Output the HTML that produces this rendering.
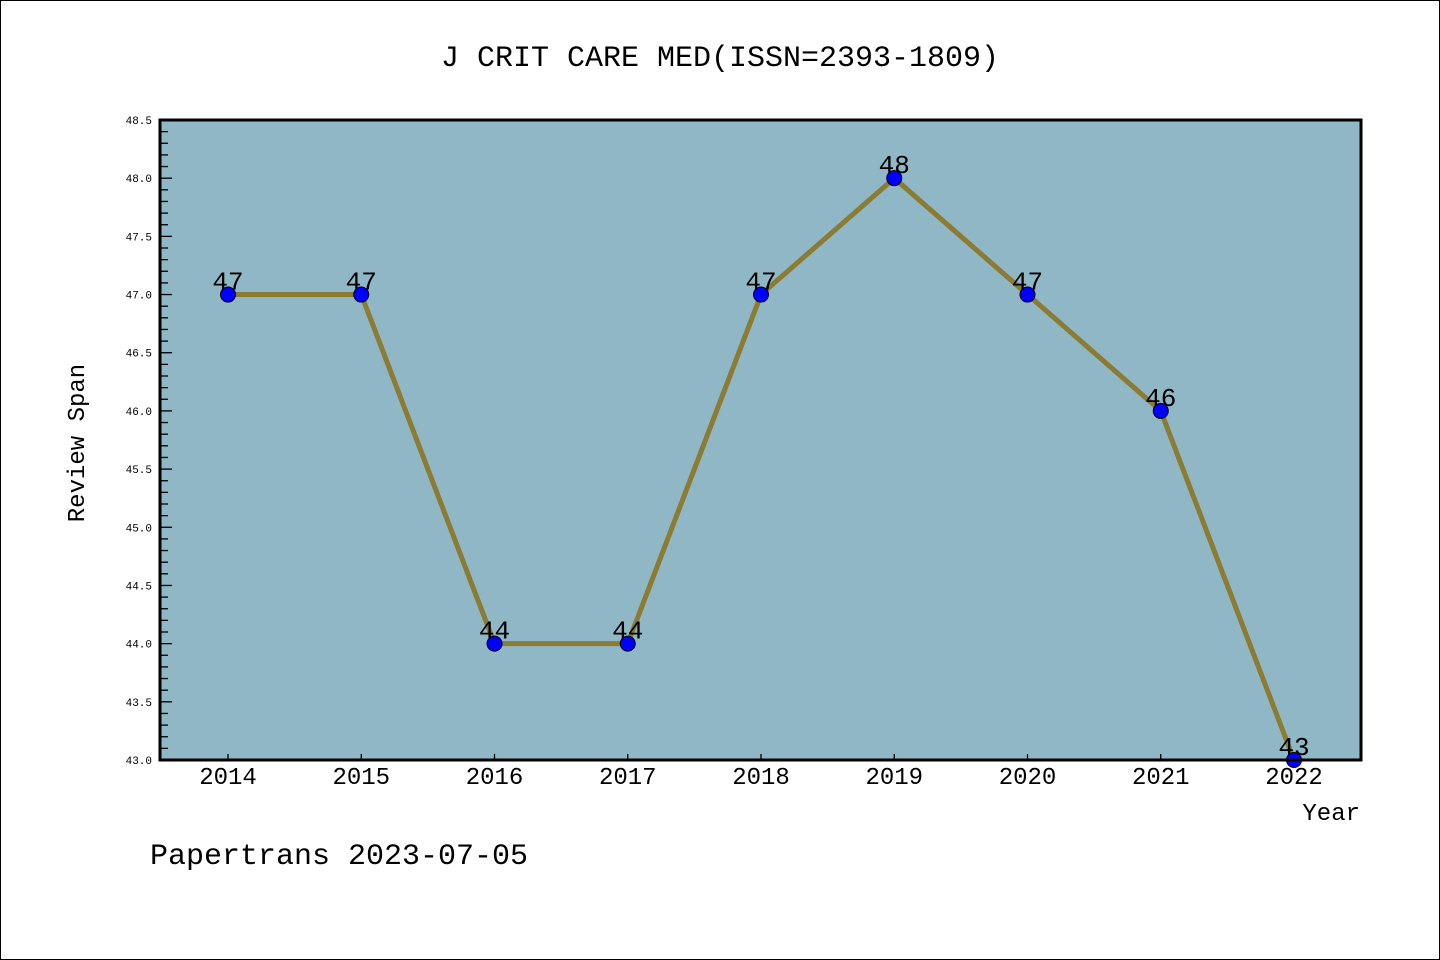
<!DOCTYPE html>
<html><head><meta charset="utf-8"><style>
html,body{margin:0;padding:0;background:#fff}
svg{display:block}
text{font-family:"WenQuanYi Zen Hei Mono","Liberation Mono",monospace}
</style></head><body>
<svg id="chart" width="1440" height="960" xmlns="http://www.w3.org/2000/svg">
<rect x="0.5" y="0.5" width="1439" height="959" fill="#fff" stroke="#000" stroke-width="1"/>
<text x="720" y="66" font-size="30" text-anchor="middle">J CRIT CARE MED(ISSN=2393-1809)</text>
<rect x="160" y="120" width="1201" height="640" fill="#8fb7c5"/>
<g id="yaxis"></g>
<g id="xaxis"></g>
<g id="series"></g>
<rect x="160" y="120" width="1201" height="640" fill="none" stroke="#000" stroke-width="3"/>
<text transform="translate(84,443) rotate(-90)" font-size="24" text-anchor="middle">Review Span</text>
<text x="1360" y="820" font-size="24" text-anchor="end">Year</text>
<text x="150" y="864" font-size="30">Papertrans 2023-07-05</text>
</svg>
<script>
const years = ["2014","2015","2016","2017","2018","2019","2020","2021","2022"];
const values = [47,47,44,44,47,48,47,46,43];
const yTicks = ["43.0","43.5","44.0","44.5","45.0","45.5","46.0","46.5","47.0","47.5","48.0","48.5"];
const NS="http://www.w3.org/2000/svg";
const yMin=43,yMax=48.5,plotTop=120,plotBot=760,plotLeft=160;
const y=v=>plotBot-(v-yMin)/(yMax-yMin)*(plotBot-plotTop);
const x0=228,x1=1294;
const x=i=>x0+i*(x1-x0)/(years.length-1);
function mk(t,a,p){const e=document.createElementNS(NS,t);for(const k in a)e.setAttribute(k,a[k]);p.appendChild(e);return e;}
const ya=document.getElementById('yaxis'),xa=document.getElementById('xaxis'),sg=document.getElementById('series');
for(let k=0;k<=55;k++){const v=yMin+k*0.1;const maj=k%5===0;
 const l=mk('line',{x1:plotLeft,x2:plotLeft+(maj?12:8),y1:y(v),y2:y(v),stroke:'#000','stroke-width':1.3},ya);
 
 }
yTicks.forEach(t=>{const e=mk('text',{x:152,y:y(+t)+4,'font-size':11,'text-anchor':'end','font-family':'"DejaVu Sans",sans-serif'},ya);e.textContent=t;
 
 });
years.forEach((yr,i)=>{const l=mk('line',{x1:x(i),x2:x(i),y1:plotBot,y2:plotBot-6,stroke:'#000','stroke-width':1.3},xa);
 
 
 const e=mk('text',{x:x(i),y:784,'font-size':24,'text-anchor':'middle'},xa);e.textContent=yr;
 
 });
const pl=mk('polyline',{points:values.map((v,i)=>x(i)+','+y(v)).join(' '),fill:'none',stroke:'#8c7b32','stroke-width':5,'stroke-linejoin':'round'},sg);


values.forEach((v,i)=>{const c=mk('circle',{cx:x(i),cy:y(v),r:7.5,fill:'#0000ff',stroke:'#000','stroke-width':1},sg);
 
 
 const t=mk('text',{x:x(i),y:y(v)-5,'font-size':26,'text-anchor':'middle','font-family':'"DejaVu Sans",sans-serif'},sg);t.textContent=v;
 
 });
</script>
</body></html>
